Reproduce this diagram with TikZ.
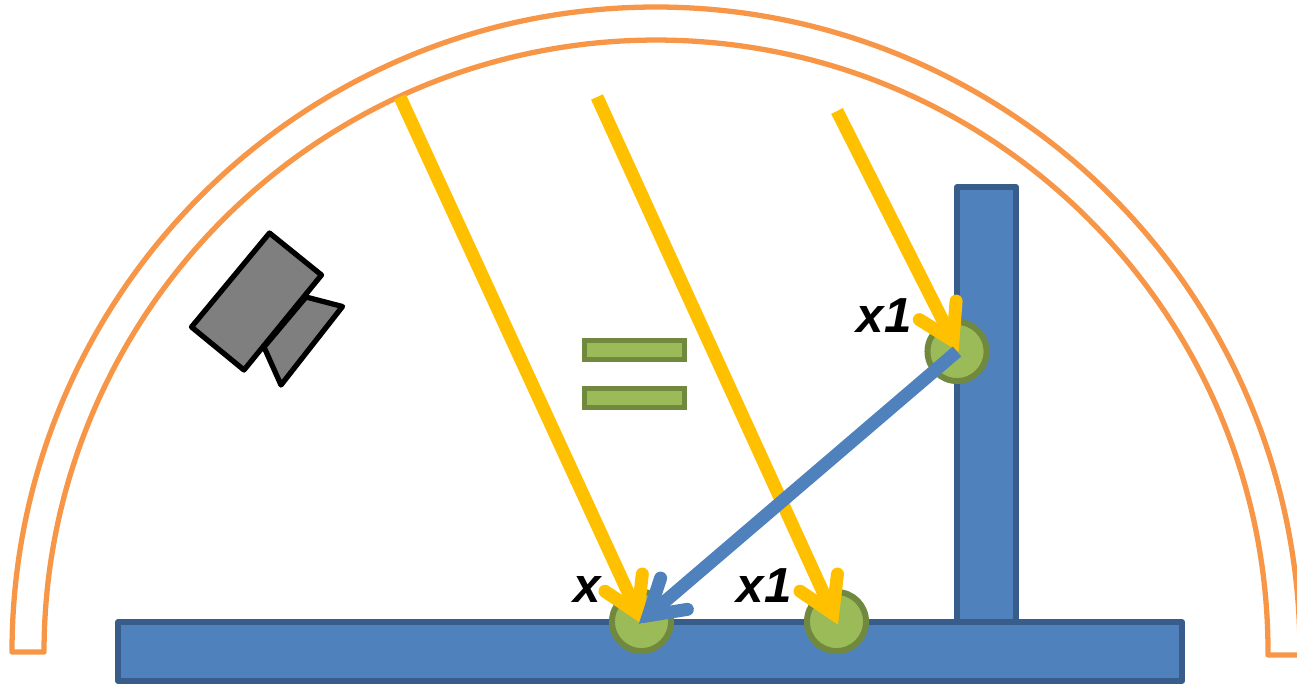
\documentclass[tikz,border=0pt]{standalone}
\usepackage{xcolor}
\usepackage{fontspec}
\setmainfont{Liberation Sans}
\usetikzlibrary{arrows.meta,positioning,calc}
\definecolor{dome}{HTML}{F79646}
\definecolor{wallfill}{HTML}{4F81BD}
\definecolor{walledge}{HTML}{385D8A}
\definecolor{patchfill}{HTML}{9BBB59}
\definecolor{patchedge}{HTML}{71893F}
\definecolor{ray}{HTML}{FFC000}
\definecolor{cam}{HTML}{7F7F7F}
\tikzset{
  wall/.style={fill=wallfill,draw=walledge,line width=1.6pt,line join=round},
  patch/.style={circle,fill=patchfill,draw=patchedge,line width=1.7pt,minimum size=16.8pt,inner sep=0pt},
  bar/.style={fill=patchfill,draw=patchedge,line width=1.5pt},
  camera/.style={fill=cam,draw=black,line width=1.5pt,line join=round},
  light/.style={line width=3.7pt,shorten >=-1pt,-{Straight Barb[length=9.6pt,width=11.7pt,line cap=round,line join=miter]}},
  label/.style={font=\fontsize{14pt}{16pt}\selectfont\bfseries\itshape,anchor=base,inner sep=0pt}
}
\begin{document}
\begin{tikzpicture}[x=0.01cm,y=-0.01cm]
  \clip (0,0) rectangle (1297,684);
  % dome
  \draw[dome,line width=1.5pt,line join=round]
     (12,652) arc[start angle=180,end angle=360.27,x radius=644,y radius=645]
     -- (1268,655) arc[start angle=360.28,end angle=180,x radius=612,y radius=612] -- cycle;
  % walls
  \draw[wall] (957,187) rectangle (1016,622);
  \draw[wall] (118,622) rectangle (1182,681);
  % patches
  \foreach \n/\x/\y in {a/641.5/621.5,b/836.5/621.5,c/957/351.5}
    {\node[patch] (patch\n) at (\x,\y) {};}
  % camera
  \draw[camera] (306,297) -- (342.5,306.5) -- (281,385) -- (264,347) -- cycle;
  \draw[camera] (269.5,233) -- (321.5,275) -- (244,370) -- (191.5,327) -- cycle;
  % equals sign
  \draw[bar] (584.5,340.5) rectangle (684.5,359.5);
  \draw[bar] (584.5,388.5) rectangle (684.5,407.5);
  % rays
  \coordinate (raya) at (400,97);
  \coordinate (rayb) at (597,97);
  \coordinate (rayc) at (837,111);
  \draw[ray,light] (raya) -- (patcha.center);
  \draw[ray,light] (rayb) -- (patchb.center);
  \draw[ray,light] (rayc) -- ($(patchc.center)+(0,-3)$);
  \draw[wallfill,light] (patchc.center) -- (patcha.center);
  % labels
  \node[label] (labela) at (587.5,602) {x};
  \node[label] (labelb) at (764,602) {x1};
  \node[label] (labelc) at (884,332) {x1};
\end{tikzpicture}
\end{document}
